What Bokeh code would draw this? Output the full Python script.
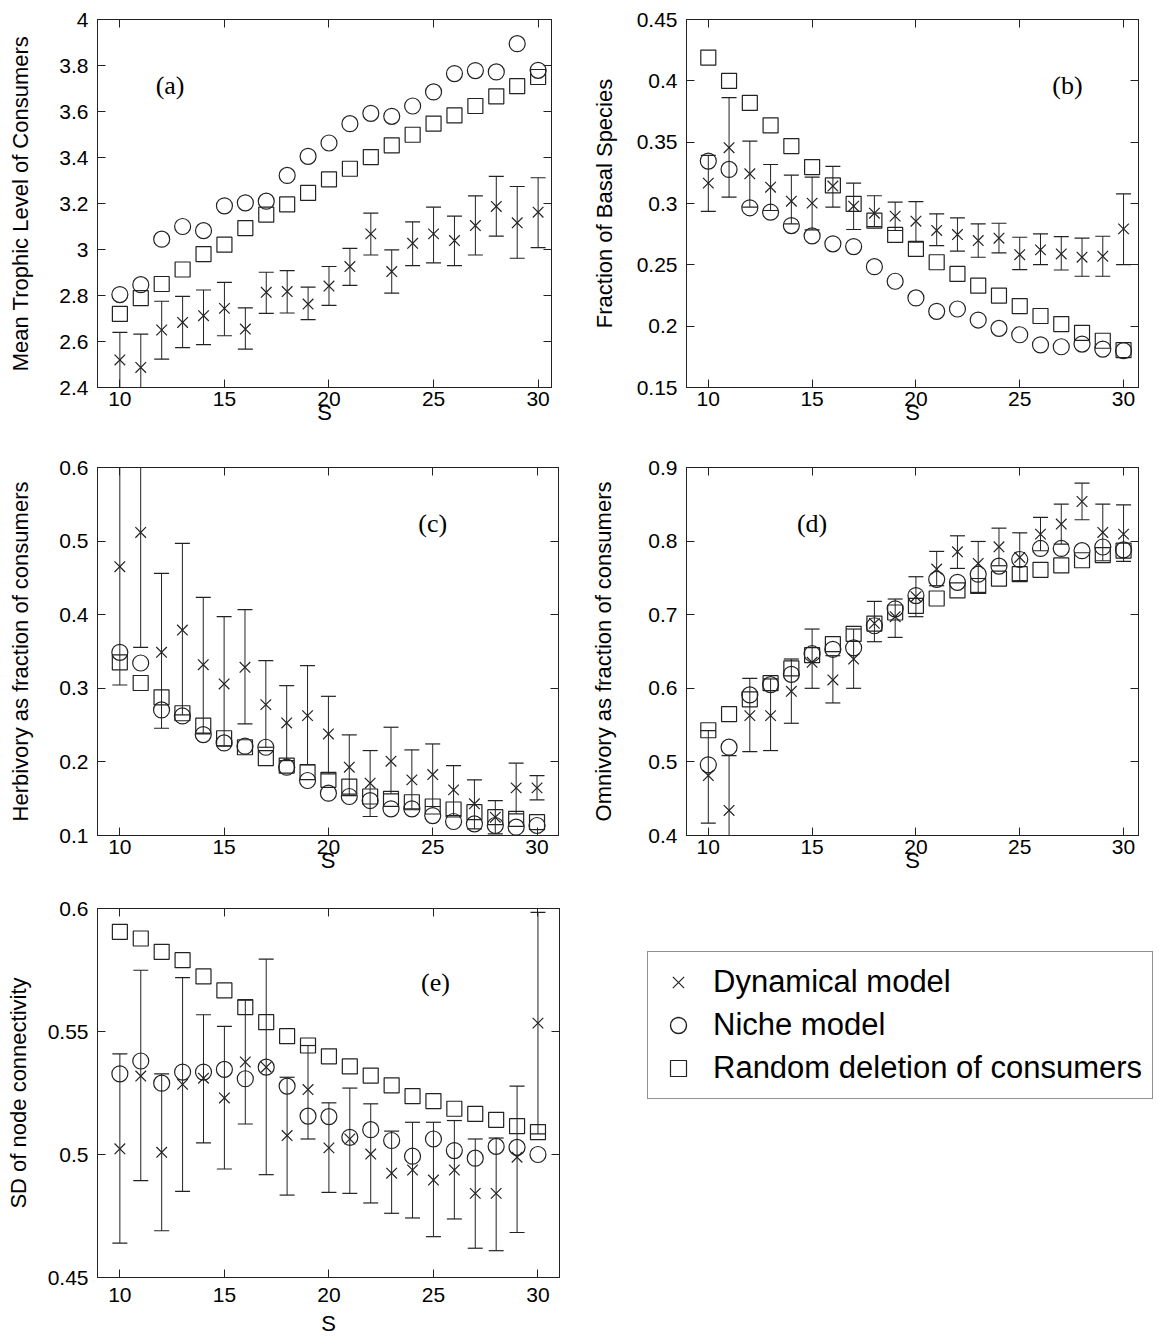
from bokeh.plotting import figure
from bokeh.layouts import column, row
from bokeh.models import (LinearAxis, FixedTicker, Range1d, Legend, LegendItem,
                          ColumnDataSource, Label)
from bokeh.embed import file_html
from bokeh.resources import INLINE

S = list(range(10, 31))
x_ticks = [10, 15, 20, 25, 30]
x_tick_labels = ["10", "15", "20", "25", "30"]

# ---- (a) Mean trophic level of consumers
a_dyn = [2.52, 2.487, 2.65, 2.683, 2.712, 2.744, 2.654, 2.814, 2.817, 2.763, 2.841,
         2.926, 3.068, 2.904, 3.027, 3.068, 3.039, 3.104, 3.187, 3.116, 3.162]
a_hi = [2.64, 2.632, 2.775, 2.796, 2.824, 2.857, 2.746, 2.901, 2.908, 2.836, 2.926,
        3.005, 3.158, 2.998, 3.12, 3.184, 3.145, 3.233, 3.318, 3.274, 3.312]
a_lo = [2.40, 2.342, 2.523, 2.573, 2.586, 2.625, 2.567, 2.722, 2.724, 2.695, 2.757,
        2.844, 2.976, 2.81, 2.93, 2.942, 2.93, 2.976, 3.058, 2.962, 3.008]
a_niche = [2.804, 2.847, 3.045, 3.10, 3.082, 3.19, 3.203, 3.21, 3.322, 3.405, 3.463,
           3.547, 3.592, 3.579, 3.624, 3.685, 3.765, 3.778, 3.772, 3.895, 3.779]
a_rand = [2.72, 2.789, 2.85, 2.913, 2.98, 3.021, 3.093, 3.152, 3.196, 3.246, 3.305,
          3.351, 3.402, 3.453, 3.499, 3.547, 3.583, 3.624, 3.666, 3.71, 3.75]
a_ticks = [2.4, 2.6, 2.8, 3.0, 3.2, 3.4, 3.6, 3.8, 4.0]
a_tick_labels = ["2.4", "2.6", "2.8", "3", "3.2", "3.4", "3.6", "3.8", "4"]

# ---- (b) Fraction of basal species
b_dyn = [0.3166, 0.3455, 0.3242, 0.3133, 0.3019, 0.3003, 0.3142, 0.2978, 0.2921, 0.2897, 0.2856,
         0.278, 0.2747, 0.2698, 0.2717, 0.2583, 0.2622, 0.2589, 0.2562, 0.257, 0.2793]
b_hi = [0.3392, 0.3863, 0.3509, 0.3318, 0.3231, 0.3215, 0.3302, 0.3166, 0.3063, 0.3011, 0.3016,
        0.2916, 0.2883, 0.2834, 0.2839, 0.2725, 0.2752, 0.273, 0.2717, 0.2733, 0.3079]
b_lo = [0.2935, 0.3052, 0.297, 0.2943, 0.2834, 0.2785, 0.297, 0.2788, 0.2812, 0.278, 0.2684,
        0.2657, 0.2611, 0.2562, 0.2597, 0.2461, 0.2502, 0.2458, 0.2407, 0.2407, 0.2502]
b_niche = [0.3346, 0.3278, 0.2965, 0.2929, 0.282, 0.2736, 0.2671, 0.2649, 0.2485, 0.2366, 0.223,
           0.2121, 0.214, 0.205, 0.1982, 0.193, 0.1848, 0.1832, 0.1854, 0.1813, 0.18]
b_rand = [0.419, 0.3999, 0.382, 0.3637, 0.3468, 0.3297, 0.3147, 0.2997, 0.2861, 0.2744, 0.263,
          0.2521, 0.2426, 0.233, 0.2249, 0.2164, 0.2083, 0.2017, 0.1946, 0.1881, 0.1805]
b_ticks = [0.15, 0.2, 0.25, 0.3, 0.35, 0.4, 0.45]
b_tick_labels = ["0.15", "0.2", "0.25", "0.3", "0.35", "0.4", "0.45"]

# ---- (c) Herbivory
c_dyn = [0.4652, 0.5118, 0.3489, 0.3792, 0.3321, 0.3059, 0.3285, 0.2778, 0.2529, 0.2629, 0.238,
         0.1928, 0.171, 0.2009, 0.1756, 0.1828, 0.162, 0.143, 0.1249, 0.1647, 0.1647]
c_hi = [0.626, 0.668, 0.4561, 0.4968, 0.4235, 0.3973, 0.4068, 0.3376, 0.3036, 0.3308, 0.2891,
        0.2367, 0.2154, 0.2471, 0.2163, 0.2244, 0.195, 0.1756, 0.1475, 0.1982, 0.1814]
c_lo = [0.3045, 0.3557, 0.2457, 0.2638, 0.238, 0.2213, 0.2516, 0.2199, 0.2018, 0.1959, 0.1837,
        0.1543, 0.1258, 0.1566, 0.1362, 0.1394, 0.1271, 0.1091, 0.1023, 0.1294, 0.1484]
c_niche = [0.3489, 0.3344, 0.2706, 0.2624, 0.2371, 0.2258, 0.2213, 0.2199, 0.1928, 0.1747, 0.1575,
           0.153, 0.1475, 0.1362, 0.1362, 0.1271, 0.119, 0.1158, 0.1136, 0.1113, 0.1136]
c_rand = [0.3353, 0.3072, 0.2878, 0.2661, 0.2493, 0.2321, 0.2199, 0.205, 0.195, 0.186, 0.1756,
          0.1665, 0.153, 0.1498, 0.1452, 0.1394, 0.1353, 0.1317, 0.1249, 0.1226, 0.1181]
c_ticks = [0.1, 0.2, 0.3, 0.4, 0.5, 0.6]
c_tick_labels = ["0.1", "0.2", "0.3", "0.4", "0.5", "0.6"]

# ---- (d) Omnivory
d_dyn = [0.4814, 0.434, 0.5629, 0.5629, 0.5959, 0.6353, 0.6113, 0.6398, 0.6882, 0.6973, 0.7244,
         0.762, 0.7855, 0.7697, 0.7923, 0.7778, 0.8095, 0.8231, 0.8538, 0.8118, 0.8095]
d_hi = [0.5425, 0.5086, 0.6136, 0.6127, 0.6398, 0.6805, 0.6443, 0.6805, 0.7181, 0.7213, 0.7516,
        0.786, 0.8072, 0.7995, 0.8176, 0.8113, 0.8321, 0.8502, 0.8787, 0.8502, 0.8493]
d_lo = [0.4167, 0.36, 0.514, 0.5154, 0.5525, 0.60, 0.5801, 0.60, 0.6633, 0.6692, 0.6973,
        0.7394, 0.7629, 0.7303, 0.7665, 0.7462, 0.7869, 0.7959, 0.829, 0.7733, 0.7724]
d_niche = [0.496, 0.52, 0.591, 0.605, 0.619, 0.647, 0.653, 0.655, 0.685, 0.708, 0.726,
           0.748, 0.744, 0.755, 0.766, 0.775, 0.79, 0.79, 0.787, 0.792, 0.788]
d_rand = [0.543, 0.565, 0.585, 0.607, 0.627, 0.645, 0.66, 0.674, 0.688, 0.703, 0.712,
          0.722, 0.733, 0.739, 0.749, 0.755, 0.761, 0.767, 0.774, 0.781, 0.787]
d_ticks = [0.4, 0.5, 0.6, 0.7, 0.8, 0.9]
d_tick_labels = ["0.4", "0.5", "0.6", "0.7", "0.8", "0.9"]

# ---- (e) SD of node connectivity
e_dyn = [0.5023, 0.5319, 0.5009, 0.5285, 0.531, 0.523, 0.5376, 0.5355, 0.5077, 0.5264, 0.5027,
         0.5063, 0.5002, 0.4924, 0.4937, 0.4896, 0.4937, 0.4842, 0.4842, 0.4989, 0.5534]
e_hi = [0.5409, 0.5749, 0.5328, 0.5719, 0.5568, 0.5521, 0.5627, 0.5794, 0.5314, 0.5443, 0.521,
        0.527, 0.5206, 0.5095, 0.5131, 0.5131, 0.5138, 0.5063, 0.5067, 0.5278, 0.5984]
e_lo = [0.464, 0.4894, 0.469, 0.485, 0.5047, 0.4941, 0.5124, 0.4918, 0.4835, 0.5063, 0.4846,
        0.4842, 0.4803, 0.4761, 0.4742, 0.4666, 0.4738, 0.4619, 0.4609, 0.4683, 0.5084]
e_niche = [0.5328, 0.538, 0.529, 0.5335, 0.5335, 0.5346, 0.5308, 0.5355, 0.5278, 0.5156, 0.5154,
           0.507, 0.5101, 0.5057, 0.4993, 0.5063, 0.5016, 0.4985, 0.5033, 0.5029, 0.5]
e_rand = [0.5905, 0.5878, 0.5824, 0.579, 0.5724, 0.5667, 0.5599, 0.5538, 0.5481, 0.5443, 0.5399,
          0.5358, 0.5321, 0.5281, 0.5237, 0.5217, 0.5186, 0.5165, 0.5141, 0.5115, 0.5091]
e_ticks = [0.45, 0.5, 0.55, 0.6]
e_tick_labels = ["0.45", "0.5", "0.55", "0.6"]

legend_labels = ["Dynamical model", "Niche model", "Random deletion of consumers"]

INK = "#222222"
SANS = "Liberation Sans"
SERIF = "Liberation Serif"


def style_axis(ax, ticks, labels, standoff):
    ax.ticker = FixedTicker(ticks=ticks)
    ax.major_label_overrides = {t: l for t, l in zip(ticks, labels)}
    ax.major_tick_in = 8
    ax.major_tick_out = 0
    ax.minor_tick_in = 0
    ax.minor_tick_out = 0
    ax.major_tick_line_color = INK
    ax.axis_line_color = INK
    ax.major_label_text_font = SANS
    ax.major_label_text_font_size = "21px"
    ax.major_label_text_color = "black"
    ax.major_label_standoff = standoff
    ax.axis_label_text_font = SANS
    ax.axis_label_text_font_size = "22px"
    ax.axis_label_text_font_style = "normal"
    ax.axis_label_text_color = "black"


def mirror_axis(ticks):
    ax = LinearAxis(ticker=FixedTicker(ticks=ticks), major_tick_in=8, major_tick_out=0,
                    minor_tick_in=0, minor_tick_out=0, major_tick_line_color=INK,
                    axis_line_color=INK, major_label_text_color=None,
                    major_label_text_font_size="1px", major_label_standoff=0)
    return ax


def panel(width, height, borders, xr, yr, yticks, ylabels, ylabel, xl_std, ylab_std,
          xlab_std, dyn, hi, lo, niche, rand, tag, tag_xy):
    left, right, top, bottom = borders
    p = figure(width=width, height=height, x_range=Range1d(*xr), y_range=Range1d(*yr),
               output_backend="svg", toolbar_location=None,
               min_border_left=left, min_border_right=right,
               min_border_top=top, min_border_bottom=bottom)
    p.xgrid.visible = False
    p.ygrid.visible = False
    p.outline_line_color = INK
    p.outline_line_width = 1
    p.background_fill_color = "white"
    p.border_fill_color = "white"
    style_axis(p.xaxis[0], x_ticks, x_tick_labels, xl_std)
    style_axis(p.yaxis[0], yticks, ylabels, 9)
    p.xaxis[0].axis_label = "S"
    p.xaxis[0].axis_label_standoff = xlab_std
    p.yaxis[0].axis_label = ylabel
    p.yaxis[0].axis_label_standoff = ylab_std
    p.add_layout(mirror_axis(x_ticks), "above")
    p.add_layout(mirror_axis(yticks), "right")

    src = ColumnDataSource(dict(s=S, dyn=dyn, hi=hi, lo=lo, niche=niche, rand=rand))
    p.segment(x0="s", y0="lo", x1="s", y1="hi", source=src, line_color=INK, line_width=1)
    p.scatter(x="s", y="hi", source=src, marker="dash", size=15, line_color=INK, line_width=1.2)
    p.scatter(x="s", y="lo", source=src, marker="dash", size=15, line_color=INK, line_width=1.2)
    p.scatter(x="s", y="dyn", source=src, marker="x", size=15, line_color=INK, line_width=1.2)
    p.scatter(x="s", y="niche", source=src, marker="circle", size=16, fill_color=None,
              line_color=INK, line_width=1.2)
    p.scatter(x="s", y="rand", source=src, marker="square", size=15, fill_color=None,
              line_color=INK, line_width=1.2)
    p.add_layout(Label(x=tag_xy[0], y=tag_xy[1], text=tag, text_font=SERIF,
                       text_font_size="26px", text_align="center", text_baseline="middle",
                       text_color="black"))
    return p


pa = panel(588, 440, (97, 37, 19, 53), (8.93, 30.64), (2.4, 4.0), a_ticks, a_tick_labels,
           "Mean Trophic Level of Consumers", 4, 23, -9,
           a_dyn, a_hi, a_lo, a_niche, a_rand, "(a)", (12.4, 3.713))
pb = panel(571, 440, (95, 21, 19, 53), (8.95, 30.72), (0.15, 0.45), b_ticks, b_tick_labels,
           "Fraction of Basal Species", 4, 17, -9,
           b_dyn, b_hi, b_lo, b_niche, b_rand, "(b)", (27.3, 0.396))
pc = panel(588, 445, (97, 30, 27, 50), (8.93, 31.03), (0.1, 0.6), c_ticks, c_tick_labels,
           "Herbivory as fraction of consumers", 4, 23, -9,
           c_dyn, c_hi, c_lo, c_niche, c_rand, "(c)", (25.0, 0.524))
pd_ = panel(571, 445, (95, 21, 27, 50), (8.95, 30.72), (0.4, 0.9), d_ticks, d_tick_labels,
            "Omnivory as fraction of consumers", 4, 29, -9,
            d_dyn, d_hi, d_lo, d_niche, d_rand, "(d)", (15.0, 0.824))
pe = panel(588, 453, (97, 29, 23, 61), (8.93, 31.03), (0.45, 0.6), e_ticks, e_tick_labels,
           "SD of node connectivity", 10, 14, 6,
           e_dyn, e_hi, e_lo, e_niche, e_rand, "(e)", (25.1, 0.570))

# legend panel
nan = float("nan")
lp = figure(width=571, height=453, x_range=Range1d(0, 1), y_range=Range1d(0, 1),
            output_backend="svg", toolbar_location=None, min_border_left=16,
            min_border_right=0, min_border_top=0, min_border_bottom=0,
            x_axis_location=None, y_axis_location=None)
lp.xgrid.visible = False
lp.ygrid.visible = False
lp.outline_line_color = None
r_dyn = lp.scatter(x=[nan], y=[nan], marker="x", size=18, line_color=INK, line_width=1.2)
r_niche = lp.scatter(x=[nan], y=[nan], marker="circle", size=23, fill_color=None,
                     line_color=INK, line_width=1.4)
r_rand = lp.scatter(x=[nan], y=[nan], marker="square", size=17, fill_color=None,
                    line_color=INK, line_width=1.2)
leg = Legend(items=[LegendItem(label=legend_labels[0], renderers=[r_dyn]),
                    LegendItem(label=legend_labels[1], renderers=[r_niche]),
                    LegendItem(label=legend_labels[2], renderers=[r_rand])],
             location="top_left", label_text_font=SANS, label_text_font_size="31px",
             label_text_color="black", border_line_color=INK, border_line_width=1,
             padding=10, spacing=3, glyph_width=40, glyph_height=40, label_standoff=15,
             margin=43, background_fill_color="white", background_fill_alpha=1)
lp.add_layout(leg)

layout = column(row(pa, pb), row(pc, pd_), row(pe, lp))
open("out.html", "w").write(file_html(layout, INLINE))
